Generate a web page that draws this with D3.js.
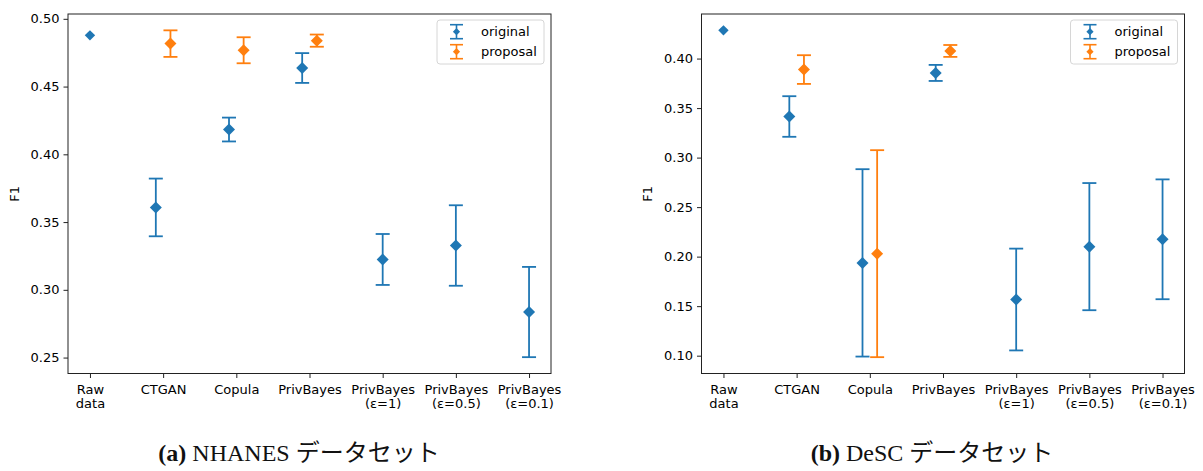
<!DOCTYPE html>
<html>
<head>
<meta charset="utf-8">
<script src="https://cdn.jsdelivr.net/npm/d3@7"></script>
<style>
  html, body { margin: 0; padding: 0; background: #fff; }
  svg { display: block; }
  .tick text { font-family: "DejaVu Sans", sans-serif; font-size: 13px; fill: #000; }
  .caption { font-family: "Liberation Serif", "Noto Sans CJK JP", serif; font-size: 24px; fill: #111; }
</style>
</head>
<body>
<svg id="chart" width="1203" height="471"></svg>
<script>
// Method labels along the x axis (line breaks split into tspans)
const categories = ["Raw\ndata", "CTGAN", "Copula", "PrivBayes", "PrivBayes\n(ε=1)", "PrivBayes\n(ε=0.5)", "PrivBayes\n(ε=0.1)"];

// NHANES: mean F1 and error half-width per method
const nhanesOriginal    = [0.4878, 0.3608, 0.4183, 0.4637, 0.3224, 0.3327, 0.2836];
const nhanesOriginalErr = [null,   0.0213, 0.0088, 0.0110, 0.0188, 0.0297, 0.0333];
const nhanesProposal    = [null,   0.4817, 0.4768, 0.4839, null,   null,   null];
const nhanesProposalErr = [null,   0.0098, 0.0096, 0.0045, null,   null,   null];

// DeSC: mean F1 and error half-width per method
const descOriginal    = [0.4285, 0.3415, 0.1937, 0.3855, 0.1567, 0.2101, 0.2175];
const descOriginalErr = [null,   0.0205, 0.0946, 0.0081, 0.0514, 0.0642, 0.0605];
const descProposal    = [null,   0.3889, 0.2030, 0.4077, null,   null,   null];
const descProposalErr = [null,   0.0145, 0.1045, 0.0060, null,   null,   null];

// Y tick values per panel
const nhanesTicks = [0.25, 0.30, 0.35, 0.40, 0.45, 0.50];
const descTicks   = [0.10, 0.15, 0.20, 0.25, 0.30, 0.35, 0.40];

const seriesNames = ["original", "proposal"];
const colors = { original: "#1f77b4", proposal: "#ff7f0e" };

const svg = d3.select("#chart");

function diamond(r) {
  return `M0,${-r}L${r},0L0,${r}L${-r},0Z`;
}

function drawPanel(opts) {
  const { x0, x1, y0, y1, orig, origErr, prop, propErr, ticks, caption, captionX, labelX } = opts;
  const g = svg.append("g");

  // Build point records from the arrays
  const points = [];
  categories.forEach((c, i) => {
    const hasBoth = orig[i] != null && prop[i] != null;
    if (orig[i] != null) points.push({ i, series: "original", v: orig[i], e: origErr[i], off: hasBoth ? -0.1 : 0 });
    if (prop[i] != null) points.push({ i, series: "proposal", v: prop[i], e: propErr[i], off: hasBoth ? 0.1 : 0 });
  });

  // Y domain: data extent (including error bars) with 5% margins
  const lo = d3.min(points, d => d.v - (d.e || 0));
  const hi = d3.max(points, d => d.v + (d.e || 0));
  const pad = (hi - lo) * 0.05;
  const y = d3.scaleLinear().domain([lo - pad, hi + pad]).range([y1, y0]);
  const nCat = categories.length;
  const xPad = (nCat - 1) * 0.05;
  const x = d3.scaleLinear().domain([-xPad, nCat - 1 + xPad]).range([x0, x1]);

  // Y axis
  const yAxis = g.append("g").attr("transform", `translate(${x0},0)`)
    .call(d3.axisLeft(y).tickValues(ticks).tickFormat(d3.format(".2f")).tickSize(4.5).tickPadding(4));
  yAxis.select(".domain").remove();
  yAxis.selectAll(".tick line").attr("stroke", "#222").attr("stroke-width", 1);

  // X axis
  const xAxis = g.append("g").attr("transform", `translate(0,${y1})`)
    .call(d3.axisBottom(x).tickValues(d3.range(nCat)).tickSize(4.5).tickPadding(5).tickFormat(() => ""));
  xAxis.select(".domain").remove();
  xAxis.selectAll(".tick line").attr("stroke", "#222").attr("stroke-width", 1);
  xAxis.selectAll(".tick text").each(function (d) {
    const t = d3.select(this);
    t.text(null).attr("dy", null).attr("y", 20);
    categories[d].split("\n").forEach((line, k) => {
      t.append("tspan").attr("x", 0).attr("dy", k === 0 ? 0 : 14.5).text(line);
    });
  });

  // Frame
  g.append("rect")
    .attr("x", x0).attr("y", y0).attr("width", x1 - x0).attr("height", y1 - y0)
    .attr("fill", "none").attr("stroke", "#222").attr("stroke-width", 1);

  // Y label
  g.append("text")
    .attr("transform", `translate(${labelX},${(y0 + y1) / 2}) rotate(-90)`)
    .attr("text-anchor", "middle")
    .attr("font-family", "DejaVu Sans, sans-serif").attr("font-size", 13)
    .text("F1");

  // Error bars and markers
  const cap = 7;
  const marks = g.append("g");
  points.forEach(p => {
    const cx = x(p.i + p.off);
    const col = colors[p.series];
    if (p.e != null) {
      const top = y(p.v + p.e), bot = y(p.v - p.e);
      marks.append("line").attr("x1", cx).attr("x2", cx).attr("y1", top).attr("y2", bot)
        .attr("stroke", col).attr("stroke-width", 1.8);
      [top, bot].forEach(yy => {
        marks.append("line").attr("x1", cx - cap).attr("x2", cx + cap).attr("y1", yy).attr("y2", yy)
          .attr("stroke", col).attr("stroke-width", 1.8);
      });
    }
    marks.append("path").attr("d", diamond(p.e != null ? 6 : 5.2))
      .attr("transform", `translate(${cx},${y(p.v)})`).attr("fill", col);
  });

  // Legend
  const lw = 107, lh = 44;
  const lx = x1 - 7 - lw, ly = y0 + 6;
  const leg = g.append("g").attr("transform", `translate(${lx},${ly})`);
  leg.append("rect").attr("width", lw).attr("height", lh).attr("rx", 3)
    .attr("fill", "#fff").attr("fill-opacity", 0.8).attr("stroke", "#d6d6d6").attr("stroke-width", 1);
  seriesNames.forEach((s, k) => {
    const cy = 11.7 + k * 20;
    const mx = 19.5;
    const col = colors[s];
    const row = leg.append("g");
    row.append("line").attr("x1", mx).attr("x2", mx).attr("y1", cy - 7).attr("y2", cy + 7).attr("stroke", col).attr("stroke-width", 1.6);
    [cy - 7, cy + 7].forEach(yy => row.append("line").attr("x1", mx - 6.5).attr("x2", mx + 6.5).attr("y1", yy).attr("y2", yy).attr("stroke", col).attr("stroke-width", 1.6));
    row.append("path").attr("d", diamond(3.6)).attr("transform", `translate(${mx},${cy})`).attr("fill", col);
    row.append("text").attr("x", 44).attr("y", cy + 4.5)
      .attr("font-family", "DejaVu Sans, sans-serif").attr("font-size", 13).attr("fill", "#000").text(s);
  });

  // Caption
  const cap1 = svg.append("text").attr("class", "caption").attr("x", captionX).attr("y", 461).attr("text-anchor", "middle");
  cap1.append("tspan").attr("font-weight", "bold").text(caption[0]);
  cap1.append("tspan").text(" " + caption[1]);
}

drawPanel({
  x0: 68, x1: 551, y0: 14, y1: 373.5,
  orig: nhanesOriginal, origErr: nhanesOriginalErr,
  prop: nhanesProposal, propErr: nhanesProposalErr,
  ticks: nhanesTicks, caption: ["(a)", "NHANES データセット"], captionX: 299, labelX: 19
});

drawPanel({
  x0: 701.5, x1: 1184.5, y0: 14, y1: 373.5,
  orig: descOriginal, origErr: descOriginalErr,
  prop: descProposal, propErr: descProposalErr,
  ticks: descTicks, caption: ["(b)", "DeSC データセット"], captionX: 932, labelX: 652
});
</script>
</body>
</html>
